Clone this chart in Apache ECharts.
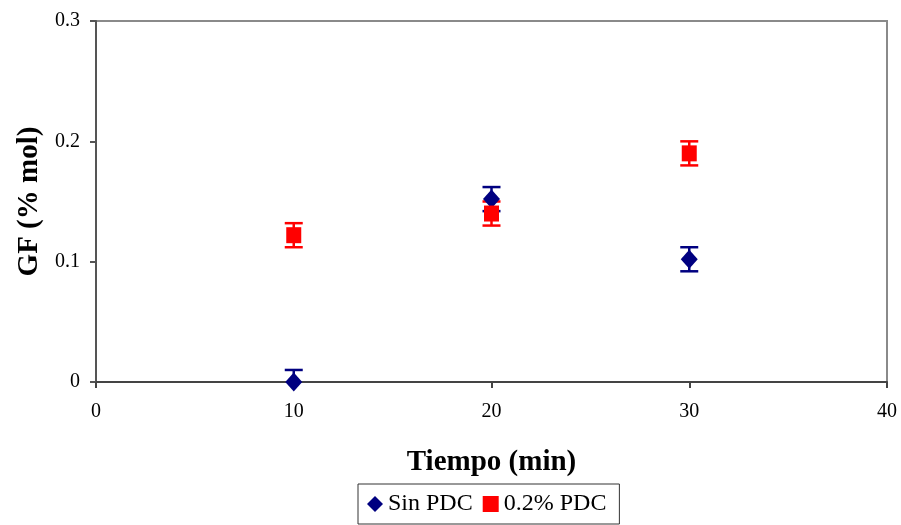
<!DOCTYPE html>
<html>
<head>
<meta charset="utf-8">
<script src="https://cdn.jsdelivr.net/npm/echarts@6/dist/echarts.min.js"></script>
<style>
  html, body { margin: 0; padding: 0; background: #fff; }
  #chart { width: 901px; height: 525px; }
</style>
</head>
<body>
<div id="chart"></div>
<script>
// Reaction time (min)
const tiempo = [10, 20, 30];
// GF (% mol) without PDC and with 0.2% PDC
const sinPDC = [0.0, 0.152, 0.102];
const conPDC = [0.122, 0.14, 0.19];
// Symmetric error (± % mol)
const errSin = [0.01, 0.01, 0.01];
const errCon = [0.01, 0.01, 0.01];
const xTicks = [0, 10, 20, 30, 40];
const yTicks = [0, 0.1, 0.2, 0.3];

const FONT = 'Liberation Serif';
const NAVY = '#000080';
const RED = '#ff0000';

function errData(vals, errs) {
  return tiempo.map((t, i) => [t, vals[i] - errs[i], vals[i] + errs[i]]);
}

// Vertical error bars with caps, drawn beneath the markers
function errorBarSeries(vals, errs, color) {
  return {
    type: 'custom',
    z: 2,
    silent: true,
    clip: true,
    data: errData(vals, errs),
    renderItem: function (params, api) {
      const x = api.value(0);
      const lo = api.coord([x, api.value(1)]);
      const hi = api.coord([x, api.value(2)]);
      const half = 9;
      const style = { stroke: color, lineWidth: 2.5 };
      return {
        type: 'group',
        children: [
          { type: 'line', shape: { x1: lo[0], y1: lo[1], x2: hi[0], y2: hi[1] }, style: style },
          { type: 'line', shape: { x1: lo[0] - half, y1: lo[1], x2: lo[0] + half, y2: lo[1] }, style: style },
          { type: 'line', shape: { x1: hi[0] - half, y1: hi[1], x2: hi[0] + half, y2: hi[1] }, style: style }
        ]
      };
    }
  };
}

const chart = echarts.init(document.getElementById('chart'));
chart.setOption({
  animation: false,
  backgroundColor: '#fff',
  grid: {
    left: 96, right: 14, top: 21, bottom: 143,
    show: true, borderColor: '#8a8a8a', borderWidth: 2, backgroundColor: '#fff'
  },
  xAxis: {
    type: 'value',
    min: xTicks[0], max: xTicks[xTicks.length - 1], interval: 10,
    name: 'Tiempo (min)',
    nameLocation: 'middle',
    nameGap: 66,
    nameTextStyle: { fontFamily: FONT, fontSize: 29, fontWeight: 'bold', color: '#000' },
    axisLine: { show: true, lineStyle: { color: '#444', width: 2 } },
    axisTick: { show: true, inside: false, length: 6, lineStyle: { color: '#444', width: 2 } },
    axisLabel: { fontFamily: FONT, fontSize: 20, color: '#000', margin: 20 },
    splitLine: { show: false }
  },
  yAxis: {
    type: 'value',
    min: yTicks[0], max: yTicks[yTicks.length - 1], interval: 0.1,
    name: 'GF (% mol)',
    nameLocation: 'middle',
    nameGap: 47,
    nameRotate: 90,
    nameTextStyle: { fontFamily: FONT, fontSize: 29, fontWeight: 'bold', color: '#000' },
    axisLine: { show: true, lineStyle: { color: '#555', width: 2 } },
    axisTick: { show: true, inside: false, length: 6, lineStyle: { color: '#555', width: 2 } },
    axisLabel: {
      fontFamily: FONT, fontSize: 20, color: '#000', margin: 16,
      formatter: function (v) { return String(Math.round(v * 10) / 10); }
    },
    splitLine: { show: false }
  },
  legend: {
    bottom: 1,
    left: 358,
    data: [
      { name: 'Sin PDC', icon: 'diamond' },
      { name: '0.2% PDC', icon: 'rect' }
    ],
    itemWidth: 16,
    itemHeight: 16,
    itemGap: 10,
    padding: [8, 13, 8, 9],
    borderColor: '#333',
    borderWidth: 1,
    textStyle: { fontFamily: FONT, fontSize: 24, color: '#000' }
  },
  series: [
    errorBarSeries(sinPDC, errSin, NAVY),
    errorBarSeries(conPDC, errCon, RED),
    {
      name: 'Sin PDC',
      type: 'scatter',
      z: 4,
      symbol: 'diamond',
      symbolSize: [17, 19],
      itemStyle: { color: NAVY, opacity: 1 },
      data: tiempo.map((t, i) => [t, sinPDC[i]])
    },
    {
      name: '0.2% PDC',
      type: 'scatter',
      z: 5,
      symbol: 'rect',
      symbolSize: [15, 16],
      itemStyle: { color: RED, opacity: 1 },
      data: tiempo.map((t, i) => [t, conPDC[i]])
    }
  ]
});
</script>
</body>
</html>
